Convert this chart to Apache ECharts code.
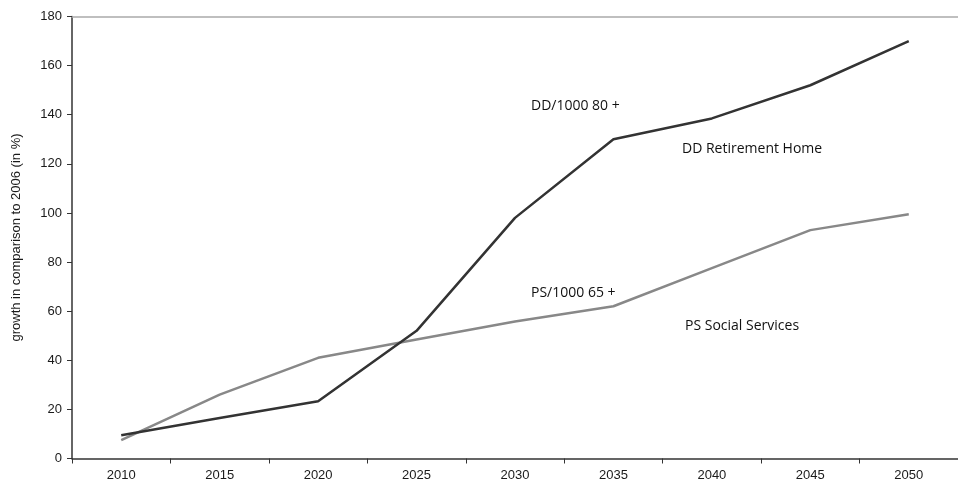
<!DOCTYPE html>
<html>
<head>
<meta charset="utf-8">
<script src="https://cdn.jsdelivr.net/npm/echarts@6/dist/echarts.min.js"></script>
<style>html,body{margin:0;padding:0;background:#fff}#c{width:958px;height:485px}</style>
</head>
<body>
<div id="c"></div>
<script>
const years = ['2010','2015','2020','2025','2030','2035','2040','2045','2050'];
const ddRetirementHome = [9.5, 16.5, 23.3, 52, 98, 130, 138.5, 152, 170];
const psSocialServices = [7.5, 26, 41, 48.5, 55.8, 62, 77.5, 93, 99.5];
const yTicks = {min: 0, max: 180, interval: 20};
const yAxisTitle = 'growth in comparison to 2006 (in %)';
const annotations = [
  {text: 'DD/1000 80 +', x: 531, y: 105},
  {text: 'DD Retirement Home', x: 682, y: 148},
  {text: 'PS/1000 65 +', x: 531, y: 292},
  {text: 'PS Social Services', x: 685, y: 325}
];

const chart = echarts.init(document.getElementById('c'));
chart.setOption({
  animation: false,
  backgroundColor: '#fff',
  grid: {left: 72, top: 16.5, width: 894, height: 442},
  xAxis: [{
    type: 'category', data: years, boundaryGap: true, position: 'bottom',
    axisLine: {lineStyle: {color: '#333', width: 1.5}},
    axisTick: {show: true, length: 5, lineStyle: {color: '#333'}},
    axisLabel: {color: '#1a1a1a', fontFamily: 'Liberation Sans', fontSize: 13, margin: 10},
    splitLine: {show: false}
  }, {
    type: 'category', data: years, position: 'top',
    axisLine: {lineStyle: {color: '#aaa', width: 1.5}},
    axisTick: {show: false}, axisLabel: {show: false}, splitLine: {show: false}
  }],
  yAxis: {
    type: 'value', min: yTicks.min, max: yTicks.max, interval: yTicks.interval,
    name: yAxisTitle, nameLocation: 'middle', nameGap: 49, nameRotate: 90,
    nameTextStyle: {color: '#1a1a1a', fontFamily: 'Liberation Sans', fontSize: 13},
    axisLine: {show: true, lineStyle: {color: '#333', width: 1.5}},
    axisTick: {show: true, length: 5, lineStyle: {color: '#333'}},
    axisLabel: {color: '#1a1a1a', fontFamily: 'Liberation Sans', fontSize: 13, margin: 10},
    splitLine: {show: false}
  },
  series: [{
    type: 'line', name: 'DD Retirement Home', data: ddRetirementHome,
    symbol: 'none', lineStyle: {color: '#333', width: 2.5}, z: 3
  }, {
    type: 'line', name: 'PS Social Services', data: psSocialServices,
    symbol: 'none', lineStyle: {color: '#888', width: 2.5}, z: 2
  }],
  graphic: annotations.map(a => ({
    type: 'text', left: a.x, top: a.y - 6,
    style: {text: a.text, fill: '#111', font: '14px "Open Sans"'}
  }))
});
</script>
</body>
</html>
